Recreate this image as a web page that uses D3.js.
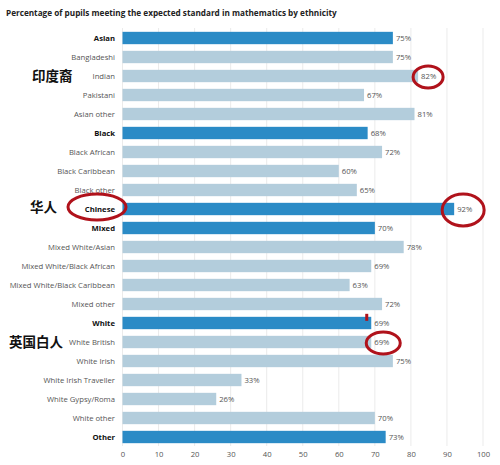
<!DOCTYPE html>
<meta charset="utf-8">
<html>
<head>
    <title>Maths standard by ethnicity</title>
    <script src="https://cdn.jsdelivr.net/npm/d3@7"></script>
</head>
<style>
    body{
        margin: 0;
        background: #fff;
    }
    svg{
        width: 500px;
        height: 465px;
        display: block;
    }
    .title{
        font-family: "Open Sans", sans-serif;
        font-size: 8.2px;
        font-weight: bold;
        fill: #222;
    }
    .cat{
        font-family: "Open Sans", sans-serif;
        font-size: 7.7px;
        fill: #555;
    }
    .cat.head{
        font-weight: bold;
        fill: #111;
    }
    .val, .tick text{
        font-family: "Open Sans", sans-serif;
        font-size: 7.7px;
        fill: #555;
    }
    .cn{
        font-family: "Noto Sans CJK SC", sans-serif;
        font-size: 13.5px;
        font-weight: bold;
        fill: #111;
    }
</style>
<body>
<svg></svg>
<script>
    const categories = ["Asian", "Bangladeshi", "Indian", "Pakistani", "Asian other",
        "Black", "Black African", "Black Caribbean", "Black other", "Chinese",
        "Mixed", "Mixed White/Asian", "Mixed White/Black African", "Mixed White/Black Caribbean", "Mixed other",
        "White", "White British", "White Irish", "White Irish Traveller", "White Gypsy/Roma", "White other", "Other"];
    const values = [75, 75, 82, 67, 81, 68, 72, 60, 65, 92, 70, 78, 69, 63, 72, 69, 69, 75, 33, 26, 70, 73];
    const headers = ["Asian", "Black", "Chinese", "Mixed", "White", "Other"];
    const ticks = [0, 10, 20, 30, 40, 50, 60, 70, 80, 90, 100];
    // chinese notes next to rows
    const notes = [["Indian", "印度裔"], ["Chinese", "华人"], ["White British", "英国白人"]];
    // red circles: around value label or around category label
    const valueCircles = ["Indian", "Chinese", "White British"];
    const labelCircles = ["Chinese"];
    const markRow = "White";

    const svg = d3.select("svg");
    const data = categories.map((c, i) => ({name: c, value: values[i], head: headers.includes(c)}));

    const x = d3.scaleLinear().domain([0, 100]).range([122.5, 483]);
    const y = d3.scaleBand().domain(categories).range([28.5, 446.5])
        .paddingInner(0.35).paddingOuter(0.175);

    svg.append("text").attr("class", "title").attr("x", 6).attr("y", 16)
        .text("Percentage of pupils meeting the expected standard in mathematics by ethnicity");

    // grid
    svg.append("g").selectAll("line").data(ticks).join("line")
        .attr("x1", d => x(d)).attr("x2", d => x(d))
        .attr("y1", 28).attr("y2", 446)
        .attr("stroke", "#ebebeb").attr("stroke-width", 1);

    // axis
    const axis = svg.append("g").attr("transform", "translate(0,447)")
        .call(d3.axisBottom(x).tickValues(ticks).tickSize(0).tickPadding(5));
    axis.select(".domain").remove();

    // bars
    svg.append("g").selectAll("rect").data(data).join("rect")
        .attr("x", x(0))
        .attr("y", d => y(d.name))
        .attr("width", d => x(d.value) - x(0))
        .attr("height", y.bandwidth())
        .attr("fill", d => d.head ? "#2b8bc6" : "#b3cddc");

    svg.append("g").selectAll("text").data(data).join("text")
        .attr("class", "val")
        .attr("x", d => x(d.value) + 3)
        .attr("y", d => y(d.name) + y.bandwidth() / 2)
        .attr("dy", "0.35em")
        .text(d => d.value + "%");

    svg.append("g").selectAll("text").data(data).join("text")
        .attr("class", d => d.head ? "cat head" : "cat")
        .attr("x", 115)
        .attr("y", d => y(d.name) + y.bandwidth() / 2)
        .attr("dy", "0.35em")
        .attr("text-anchor", "end")
        .text(d => d.name);

    // annotations
    const mid = n => y(n) + y.bandwidth() / 2;
    const byName = n => data.find(d => d.name === n);

    svg.append("g").selectAll("text").data(notes).join("text")
        .attr("class", "cn")
        .attr("x", d => d[0] === "White British" ? 9 : d[0] === "Chinese" ? 30 : 32)
        .attr("y", d => mid(d[0]) - (d[0] === "Chinese" ? 2 : 0))
        .attr("dy", "0.35em")
        .text(d => d[1]);

    svg.append("g").selectAll("ellipse").data(valueCircles).join("ellipse")
        .attr("cx", d => x(byName(d).value) + (d === "Chinese" ? 9 : d === "Indian" ? 10 : 12))
        .attr("cy", d => mid(d) + 1)
        .attr("rx", d => d === "Chinese" ? 21 : d === "Indian" ? 15 : 17)
        .attr("ry", d => d === "Chinese" ? 16 : 11)
        .attr("fill", "none").attr("stroke", "#b0121b").attr("stroke-width", 3);

    svg.append("g").selectAll("ellipse").data(labelCircles).join("ellipse")
        .attr("cx", 97).attr("cy", d => mid(d) - 2)
        .attr("rx", 29).attr("ry", 13)
        .attr("fill", "none").attr("stroke", "#b0121b").attr("stroke-width", 3);

    svg.append("rect")
        .attr("x", x(byName(markRow).value) - 6)
        .attr("y", y(markRow) - 3)
        .attr("width", 3).attr("height", 7)
        .attr("fill", "#b0121b");
</script>
</body>
</html>
